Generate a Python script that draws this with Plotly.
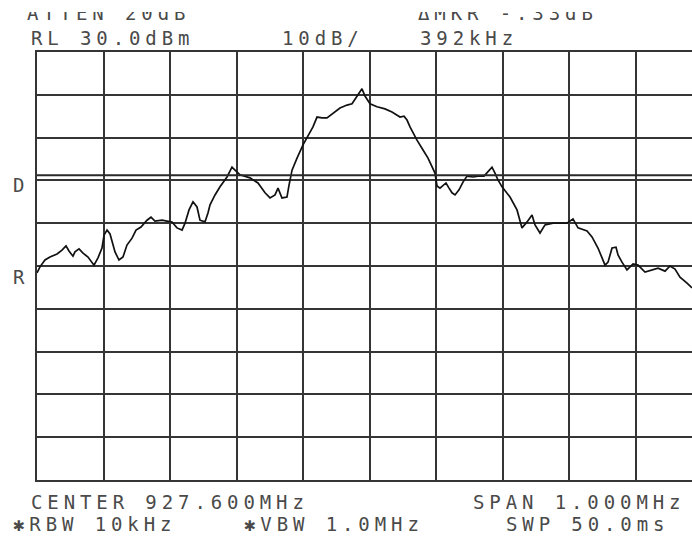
import plotly.graph_objects as go

# ---- data (frequency in MHz, level in dBm) ----
freq_mhz = [927.1000, 927.1045, 927.1120, 927.1195, 927.1301, 927.1376, 927.1436, 927.1481, 927.1541, 927.1571,
            927.1632, 927.1692, 927.1767, 927.1857, 927.1917, 927.1977, 927.2008, 927.2053, 927.2098, 927.2173,
            927.2233, 927.2293, 927.2353, 927.2429, 927.2489, 927.2564, 927.2654, 927.2714, 927.2774, 927.2880,
            927.2955, 927.3030, 927.3105, 927.3181, 927.3226, 927.3286, 927.3346, 927.3406, 927.3451, 927.3526,
            927.3571, 927.3602, 927.3677, 927.3752, 927.3857, 927.3932, 927.3978, 927.4053, 927.4203, 927.4323,
            927.4429, 927.4504, 927.4579, 927.4624, 927.4684, 927.4759, 927.4790, 927.4835, 927.4910, 927.5000,
            927.5075, 927.5150, 927.5211, 927.5286, 927.5361, 927.5451, 927.5556, 927.5662, 927.5737, 927.5797,
            927.5857, 927.5887, 927.5932, 927.6008, 927.6113, 927.6233, 927.6338, 927.6459, 927.6519, 927.6564,
            927.6609, 927.6714, 927.6805, 927.6880, 927.6985, 927.7015, 927.7060, 927.7105, 927.7150, 927.7196,
            927.7241, 927.7286, 927.7346, 927.7406, 927.7466, 927.7557, 927.7632, 927.7722, 927.7782, 927.7842,
            927.7887, 927.7932, 927.7993, 927.8113, 927.8218, 927.8293, 927.8369, 927.8444, 927.8489, 927.8564,
            927.8639, 927.8759, 927.8865, 927.8970, 927.9060, 927.9136, 927.9271, 927.9346, 927.9436, 927.9542,
            927.9587, 927.9647, 927.9707, 927.9737, 927.9797, 927.9872, 927.9963, 928.0038, 928.0143, 928.0248,
            928.0339, 928.0444, 928.0519, 928.0594, 928.0669, 928.0775, 928.0850]
level_dbm = [-21.6, -20.2, -18.6, -17.9, -17.2, -16.3, -15.3, -16.5, -17.7, -16.7,
             -16.0, -17.0, -17.9, -19.8, -18.1, -15.8, -12.8, -11.6, -12.5, -16.7,
             -18.6, -17.9, -15.1, -13.5, -11.6, -10.9, -9.3, -8.6, -9.5, -9.3,
             -9.5, -9.7, -11.1, -11.6, -10.0, -6.9, -5.0, -6.2, -9.3, -9.7,
             -7.6, -5.7, -3.4, -1.5, 0.8, 3.1, 2.4, 1.3, 0.6, -0.6,
             -2.9, -4.1, -3.4, -1.8, -4.1, -3.9, -1.1, 2.4, 5.2, 8.3,
             10.4, 12.5, 14.8, 14.6, 14.6, 15.7, 16.9, 17.6, 17.9, 19.3,
             20.7, 21.4, 19.7, 17.9, 17.2, 16.7, 16.0, 14.8, 15.0, 14.1,
             12.5, 9.4, 7.1, 5.2, 1.7, -1.3, -1.8, -1.3, -0.6, -1.8,
             -2.9, -3.4, -2.2, -0.4, 1.0, 0.8, 1.0, 1.0, 2.0, 3.1,
             1.7, 0.1, -1.5, -3.9, -6.9, -11.1, -9.7, -8.1, -10.4, -12.3,
             -10.4, -10.0, -10.0, -10.0, -9.0, -11.1, -11.8, -13.2, -15.8, -19.8,
             -19.1, -15.8, -15.6, -17.4, -19.1, -20.9, -19.5, -19.8, -21.4, -20.9,
             -20.5, -21.2, -20.0, -20.7, -22.6, -24.0, -25.1]

ref_level = 30.0        # dBm (top of screen)
db_per_div = 10.0
center_mhz = 927.6
span_mhz = 1.0
display_line = 1.2      # "D" line, dBm

header_top = [("ATTEN 20dB", 27), ("\u0394MKR -.33dB", 418)]
header_row2 = [("RL 30.0dBm", 29), ("10dB/", 280), ("392kHz", 418)]
footer_row1 = [("CENTER 927.600MHz", 29), ("SPAN 1.000MHz", 471)]
footer_row2 = [("\u2731RBW 10kHz", 11), ("\u2731VBW 1.0MHz", 242), ("SWP 50.0ms", 504)]

# ---- layout helpers (pixel geometry of the 692x538 page) ----
W, H = 692, 538
PL, PT, PB = 37, 52, 480           # plot left / top / bottom in px
PX_PER_DIV = 66.5
visible_divs = (W - PL) / PX_PER_DIV

def px(xp):
    return xp / W

def py(yp):
    return (H - yp) / H

FONT = "DejaVu Sans Mono"
FS = 19
TXT = "#4a4a4a"
LS = 4.9

def spaced(s):
    return '<span style="letter-spacing:%spx">%s</span>' % (LS, s)

fig = go.Figure()
fig.add_trace(go.Scatter(x=freq_mhz, y=level_dbm, mode="lines",
                         line=dict(color="#111111", width=1.7), hoverinfo="skip",
                         showlegend=False))

# clipped top header row (upper part cut off)
fig.add_trace(go.Scatter(x=[p for _, p in header_top], y=[15.5, 15.5],
                         text=[spaced(t) for t, _ in header_top],
                         mode="text", textposition="middle right",
                         textfont=dict(family=FONT, size=FS, color=TXT),
                         xaxis="x2", yaxis="y2", cliponaxis=True,
                         showlegend=False, hoverinfo="skip"))

x0 = center_mhz - span_mhz / 2
fig.update_layout(
    width=W, height=H,
    margin=dict(l=0, r=0, t=0, b=0),
    paper_bgcolor="white", plot_bgcolor="white",
    xaxis=dict(domain=[px(PL), 1], range=[x0, x0 + visible_divs * span_mhz / 10],
               tick0=x0, dtick=span_mhz / 10, showticklabels=False, ticks="",
               showgrid=True, gridcolor="#353535", gridwidth=1.8,
               showline=True, linecolor="#353535", linewidth=2, mirror=True,
               zeroline=False),
    yaxis=dict(domain=[py(PB), py(PT)], range=[ref_level - 10 * db_per_div, ref_level],
               tick0=ref_level, dtick=db_per_div, showticklabels=False, ticks="",
               showgrid=True, gridcolor="#353535", gridwidth=1.8,
               showline=True, linecolor="#353535", linewidth=2, mirror=False,
               zeroline=False),
    xaxis2=dict(domain=[0, 1], range=[0, W], visible=False, anchor="y2"),
    yaxis2=dict(domain=[py(26), py(12)], range=[26, 12], visible=False, anchor="x2"),
)

fig.add_shape(type="line", xref="paper", yref="y", x0=px(PL), x1=1,
              y0=display_line, y1=display_line, line=dict(color="#2a2a2a", width=2))

ann = []
def add_text(t, xp, yc):
    ann.append(dict(text=spaced(t), x=px(xp), y=py(yc), xref="paper", yref="paper",
                    xanchor="left", yanchor="middle", showarrow=False,
                    font=dict(family=FONT, size=FS, color=TXT)))

for t, xp in header_row2:
    add_text(t, xp, 38)
for t, xp in footer_row1:
    add_text(t, xp, 502)
for t, xp in footer_row2:
    add_text(t, xp, 524)
add_text("D", 11, 185)
add_text("R", 11, 277)
fig.update_layout(annotations=ann)

fig.write_html("out.html")
